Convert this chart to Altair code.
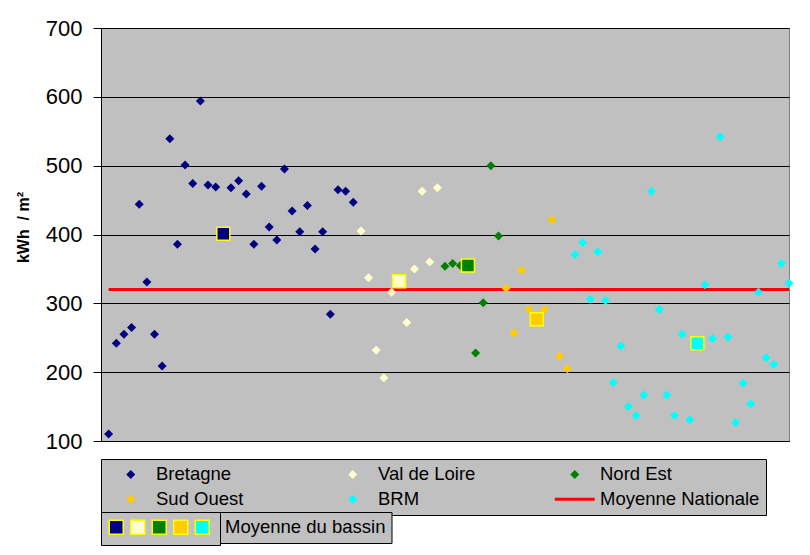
import altair as alt
import pandas as pd

# ---------------- data ----------------
regions = ["Bretagne", "Val de Loire", "Nord Est", "Sud Ouest", "BRM"]
national_label = "Moyenne Nationale"
basin_label = "Moyenne du bassin"
region_colors = ["#000080", "#FFFFCC", "#008000", "#FFCC00", "#00FFFF"]
national_color = "#FF0000"

bretagne = [110, 242, 255, 265, 444, 331, 255, 209, 539, 386, 501, 474, 594, 472, 469,
            468, 478, 459, 386, 470, 411, 392, 495, 434, 404, 442, 379, 404, 284, 465, 463, 447]
val_de_loire = [405, 337, 232, 192, 316, 272, 350, 463, 360, 468]
nord_est = [354, 358, 355, 228, 301, 500, 398]
sud_ouest = [322, 257, 348, 291, 291, 421, 223, 205]
brm = [371, 388, 306, 375, 304, 185, 238, 150, 137, 167, 463, 291, 167, 137, 255, 131,
       327, 249, 542, 251, 127, 184, 154, 316, 221, 211, 358, 329]

# basin averages and the slot (within each basin's run of points) where the square sits
basin_means = [401, 332, 355, 277, 242]
mean_slots = [15, 5, 3, 4, 16]
national_mean = 320

y_ticks = [100, 200, 300, 400, 500, 600, 700]

# ---------------- tables ----------------
series = [bretagne, val_de_loire, nord_est, sud_ouest, brm]
pts, means = [], []
pos = 0
for name, vals, m, slot in zip(regions, series, basin_means, mean_slots):
    for i, v in enumerate(vals):
        if i == slot:
            means.append({"x": pos, "kwh": m, "bassin": name, "label": basin_label})
            pos += 1
        pts.append({"x": pos, "kwh": v, "region": name})
        pos += 1
last_x = pos - 1
pts_df = pd.DataFrame(pts)
means_df = pd.DataFrame(means)
nat_df = pd.DataFrame([{"x0": 0, "x1": last_x, "kwh": national_mean}])

# ---------------- scales ----------------
FONT = "Liberation Sans"
diamond_path = "M-0.5,0L0,-0.5L0.5,0L0,0.5Z"
line_path = "M-2.22,-0.167L2.22,-0.167L2.22,0.167L-2.22,0.167Z"
entries = regions + [national_label]
color_range = region_colors + [national_color]
shape_range = [diamond_path] * len(regions) + [line_path]

x_scale = alt.Scale(domain=[-1, last_x], nice=False, zero=False)
y_scale = alt.Scale(domain=[100, 700], nice=False, zero=False)

x_axis = alt.Axis(labels=False, ticks=False, grid=False, title=None,
                  domainColor="#000000", domainWidth=1)
y_axis = alt.Axis(values=y_ticks, title="kWh\u00a0 / m²", grid=True, gridColor="#000000",
                  gridWidth=1, domainColor="#000000", tickColor="#000000", tickSize=8,
                  labelFont=FONT, labelFontSize=22, labelColor="#000000", labelPadding=11,
                  titleFont=FONT, titleFontSize=16, titleFontWeight="bold",
                  titleColor="#000000", titlePadding=14, titleY=199)

main_legend = alt.Legend(orient="none", legendX=0, legendY=431, columns=3,
                         direction="horizontal", gridAlign="all",
                         columnPadding=13, rowPadding=6, padding=6,
                         fillColor="#C0C0C0", strokeColor="#000000",
                         labelFont=FONT, labelFontSize=18.5, labelColor="#000000",
                         labelOffset=16, labelLimit=400, symbolOffset=14.5,
                         symbolSize=324, symbolStrokeWidth=0, title=None)

square_legend = alt.Legend(orient="none", legendX=0, legendY=484, direction="horizontal",
                           columns=5, columnPadding=1.5, padding=7.25, zindex=2,
                           fillColor="#C0C0C0", strokeColor="#000000",
                           symbolType="square", symbolSize=196, symbolStrokeWidth=1.5,
                           symbolStrokeColor="#FFFF00", labelExpr="''", labelFontSize=10,
                           labelOffset=0, title=None)

text_legend = alt.Legend(orient="none", legendX=99.5, legendY=484, padding=6, zindex=1,
                         fillColor="#C0C0C0", strokeColor="#000000",
                         symbolSize=0, symbolStrokeWidth=0, labelOffset=0,
                         labelFont=FONT, labelFontSize=18.5, labelColor="#000000",
                         labelLimit=400, title=None)

# ---------------- layers ----------------
national = alt.Chart(nat_df).mark_rule(color=national_color, strokeWidth=3).encode(
    x=alt.X("x0:Q", scale=x_scale, axis=x_axis),
    x2="x1:Q",
    y=alt.Y("kwh:Q", scale=y_scale, axis=y_axis),
)

points = alt.Chart(pts_df).mark_point(filled=True, opacity=1, size=324, strokeWidth=0).encode(
    x=alt.X("x:Q", scale=x_scale, axis=x_axis),
    y=alt.Y("kwh:Q", scale=y_scale, axis=y_axis),
    color=alt.Color("region:N", scale=alt.Scale(domain=entries, range=color_range),
                    legend=main_legend),
    shape=alt.Shape("region:N", scale=alt.Scale(domain=entries, range=shape_range),
                    legend=main_legend),
)

squares = alt.Chart(means_df).mark_square(size=169, stroke="#FFFF00", strokeWidth=1.5,
                                          opacity=1).encode(
    x=alt.X("x:Q", scale=x_scale, axis=x_axis),
    y=alt.Y("kwh:Q", scale=y_scale, axis=y_axis),
    fill=alt.Fill("bassin:N", scale=alt.Scale(domain=regions, range=region_colors),
                  legend=square_legend),
    opacity=alt.Opacity("label:N", scale=alt.Scale(domain=[basin_label], range=[1, 1]),
                        legend=text_legend),
)

chart = alt.layer(national, points, squares).properties(
    width=688, height=413,
    padding={"left": 93, "top": 20, "right": 13, "bottom": 106},
    autosize=alt.AutoSizeParams(type="none"),
    background="#FFFFFF",
).configure_view(
    fill="#C0C0C0", stroke="#808080", strokeWidth=1
)

chart.save("out.html", embed_options={"renderer": "svg", "actions": False})
